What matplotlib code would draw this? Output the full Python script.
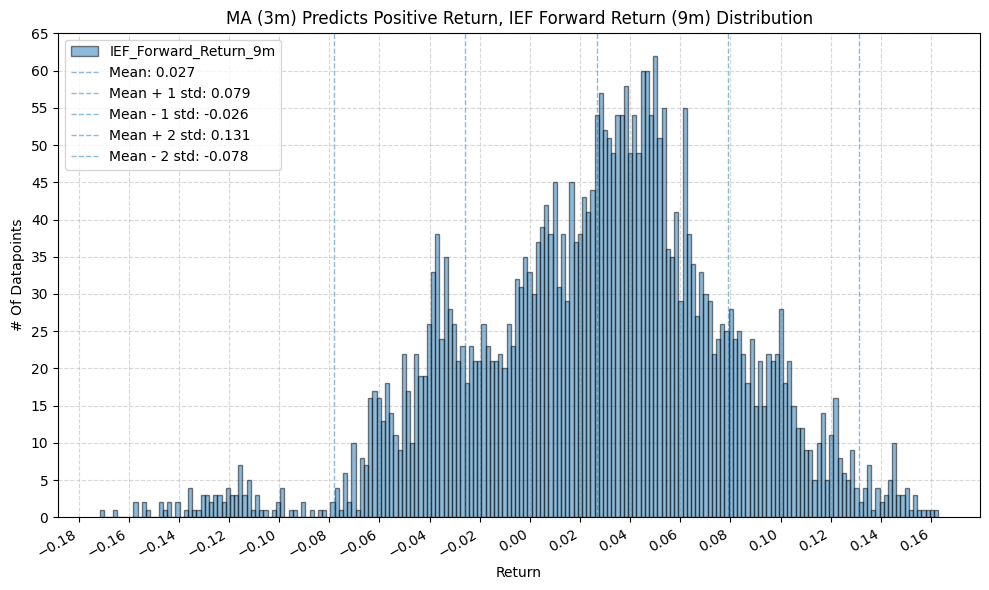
import numpy as np
import matplotlib
matplotlib.use("Agg")
import matplotlib.pyplot as plt
from matplotlib.ticker import MultipleLocator

# histogram: 200 bins between data min and max
series_name = "IEF_Forward_Return_9m"
data_min = -0.1715
data_max = 0.1629
counts = [
    1, 0, 0, 1, 0, 0, 0, 0, 2, 0,
    2, 1, 0, 0, 2, 1, 2, 0, 2, 0,
    1, 4, 1, 1, 3, 3, 2, 3, 3, 2,
    4, 3, 3, 7, 3, 5, 1, 3, 1, 1,
    0, 1, 2, 4, 0, 1, 1, 0, 2, 0,
    1, 0, 1, 1, 0, 2, 4, 1, 6, 2,
    10, 1, 8, 7, 16, 17, 16, 13, 18, 14,
    11, 9, 22, 17, 10, 22, 19, 19, 26, 33,
    38, 24, 35, 28, 26, 21, 23, 18, 23, 21,
    21, 26, 23, 21, 21, 22, 20, 26, 23, 32,
    31, 35, 33, 30, 37, 39, 42, 38, 45, 31,
    38, 29, 45, 37, 38, 43, 41, 44, 54, 57,
    52, 51, 49, 54, 54, 58, 49, 54, 49, 60,
    60, 54, 62, 51, 55, 36, 35, 41, 29, 55,
    38, 34, 27, 33, 30, 29, 22, 24, 26, 25,
    28, 24, 25, 22, 18, 24, 15, 21, 15, 22,
    21, 22, 28, 18, 21, 15, 12, 12, 9, 9,
    5, 10, 14, 5, 11, 16, 8, 6, 5, 9,
    4, 2, 4, 7, 1, 4, 2, 3, 5, 10,
    3, 3, 4, 1, 3, 1, 1, 1, 1, 1,
]
mean = 0.0266
std = 0.0524

edges = np.linspace(data_min, data_max, len(counts) + 1)
centers = (edges[:-1] + edges[1:]) / 2

fig, ax = plt.subplots(figsize=(9.89, 5.9), dpi=100)
ax.hist(centers, bins=edges, weights=counts, alpha=0.5, edgecolor="black",
        label=series_name)

lines = [
    (mean, f"Mean: {mean:.3f}"),
    (mean + std, f"Mean + 1 std: {mean + std:.3f}"),
    (mean - std, f"Mean - 1 std: {mean - std:.3f}"),
    (mean + 2 * std, f"Mean + 2 std: {mean + 2 * std:.3f}"),
    (mean - 2 * std, f"Mean - 2 std: {mean - 2 * std:.3f}"),
]
for x, lab in lines:
    ax.axvline(x, color="C0", linestyle="--", linewidth=1, alpha=0.5, label=lab)

ax.xaxis.set_major_locator(MultipleLocator(0.02))
ax.yaxis.set_major_locator(MultipleLocator(5))
ax.grid(True, linestyle="--", alpha=0.5)
ax.set_axisbelow(True)
ax.set_title("MA (3m) Predicts Positive Return, IEF Forward Return (9m) Distribution")
ax.set_xlabel("Return")
ax.set_ylabel("# Of Datapoints")
ax.legend(loc="upper left")
fig.autofmt_xdate()
plt.subplots_adjust(left=0.0587, right=0.991, bottom=0.1232, top=0.9446)
plt.savefig("out.png", dpi=100)
